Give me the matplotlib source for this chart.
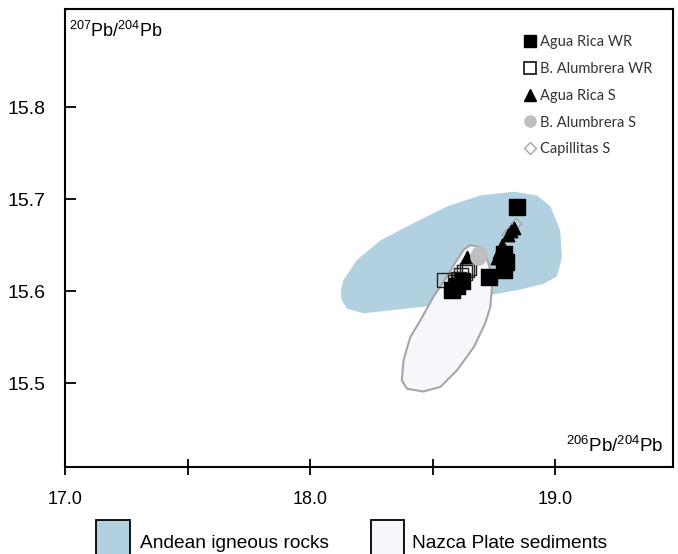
import numpy as np
import matplotlib
matplotlib.use("Agg")
import matplotlib.pyplot as plt
from matplotlib.patches import Polygon, Rectangle
from matplotlib.lines import Line2D

plt.rcParams.update({"font.family": "Liberation Sans", "mathtext.fontset": "custom",
                     "mathtext.rm": "Liberation Sans", "mathtext.it": "Liberation Sans"})

# field outlines (206Pb/204Pb, 207Pb/204Pb)
andean_x = [18.125, 18.136, 18.191, 18.286, 18.422, 18.558, 18.694, 18.830, 18.925, 18.980,
            19.020, 19.027, 19.007, 18.952, 18.844, 18.735, 18.626, 18.490, 18.286, 18.218,
            18.150, 18.129]
andean_y = [15.601, 15.612, 15.634, 15.655, 15.674, 15.692, 15.704, 15.708, 15.704, 15.692,
            15.666, 15.637, 15.616, 15.608, 15.601, 15.596, 15.590, 15.584, 15.578, 15.576,
            15.581, 15.590]
nazca_x = [18.653, 18.694, 18.714, 18.732, 18.742, 18.735, 18.714, 18.667, 18.599, 18.531,
           18.462, 18.395, 18.374, 18.381, 18.408, 18.449, 18.503, 18.558, 18.599, 18.626]
nazca_y = [15.650, 15.648, 15.641, 15.626, 15.605, 15.583, 15.565, 15.539, 15.514, 15.496,
           15.491, 15.494, 15.503, 15.525, 15.550, 15.568, 15.594, 15.616, 15.634, 15.645]

# samples
ar_wr_x = [18.58, 18.60, 18.62, 18.73, 18.79, 18.80, 18.79, 18.845]
ar_wr_y = [15.601, 15.606, 15.611, 15.615, 15.623, 15.632, 15.640, 15.691]
ba_wr_x = [18.547, 18.590, 18.605, 18.616, 18.630, 18.640, 18.648]
ba_wr_y = [15.612, 15.610, 15.613, 15.617, 15.620, 15.623, 15.626]
ar_s_x = [18.641, 18.763, 18.771, 18.784, 18.790, 18.808, 18.820, 18.833]
ar_s_y = [15.637, 15.636, 15.642, 15.650, 15.630, 15.661, 15.665, 15.669]
ba_s_x = [18.686, 18.690]
ba_s_y = [15.637, 15.640]
cap_s_x = [18.804, 18.816, 18.829, 18.841]
cap_s_y = [15.661, 15.665, 15.668, 15.673]

BLUE = "#B1D0E0"
NAZ = "#F5F7FA"

fig = plt.figure(figsize=(6.78, 5.54), dpi=100)
ax = fig.add_axes([0.0959, 0.157, 0.8967, 0.8268])

ax.add_patch(Polygon(np.column_stack([andean_x, andean_y]), closed=True,
                     facecolor=BLUE, edgecolor="none", zorder=1))
ax.add_patch(Polygon(np.column_stack([nazca_x, nazca_y]), closed=True,
                     facecolor=NAZ, edgecolor="#A6A6A6", lw=1.5, joinstyle="round",
                     zorder=2))

ax.scatter(ba_wr_x, ba_wr_y, s=110, marker="s", facecolor="none", edgecolor="#222222",
           lw=1.0, zorder=3)
ax.scatter(ar_wr_x, ar_wr_y, s=125, marker="s", color="black", zorder=4)
ax.scatter(ar_s_x, ar_s_y, s=80, marker="^", color="black", zorder=5)
ax.scatter(ba_s_x, ba_s_y, s=120, marker="o", color="#BFBFBF", zorder=5)
ax.scatter(cap_s_x, cap_s_y, s=30, marker="D", facecolor="none", edgecolor="#A6A6A6",
           lw=1.0, zorder=4)

ax.set_xlim(17.0, 19.48)
ax.set_ylim(15.409, 15.9065)
ax.set_xticks([17.0, 18.0, 19.0])
ax.set_xticklabels(["17.0", "18.0", "19.0"])
ax.set_xticks([17.5, 18.5], minor=True)
ax.set_yticks([15.5, 15.6, 15.7, 15.8])
ax.set_yticklabels(["15.5", "15.6", "15.7", "15.8"])
ax.tick_params(axis="x", which="both", direction="inout", length=11, width=1.3,
               labelsize=13, pad=12)
ax.tick_params(axis="y", direction="in", length=8, width=1.3, labelsize=14, pad=14)
for sp in ax.spines.values():
    sp.set_linewidth(1.5)

ax.text(0.007, 0.953, r"$^{207}$Pb/$^{204}$Pb", transform=ax.transAxes, fontsize=13,
        ha="left", va="center")
ax.text(0.985, 0.045, r"$^{206}$Pb/$^{204}$Pb", transform=ax.transAxes, fontsize=13.5,
        ha="right", va="center")

handles = [
    Line2D([], [], ls="none", marker="s", ms=8, color="black"),
    Line2D([], [], ls="none", marker="s", ms=8, mfc="white", mec="#222222", mew=1.3),
    Line2D([], [], ls="none", marker="^", ms=8, color="black"),
    Line2D([], [], ls="none", marker="o", ms=8, color="#BFBFBF"),
    Line2D([], [], ls="none", marker="D", ms=6, mfc="white", mec="#A6A6A6", mew=1.0),
]
labels = ["Agua Rica WR", "B. Alumbrera WR", "Agua Rica S", "B. Alumbrera S", "Capillitas S"]
leg = ax.legend(handles, labels, loc="upper left", bbox_to_anchor=(0.755, 0.943),
                frameon=False, prop={"family": "Lato", "size": 10.5}, handlelength=0.8,
                handletextpad=0.3, labelspacing=0.88, borderpad=0, borderaxespad=0)
for t in leg.get_texts():
    t.set_color("#333333")

# field key below the plot
fig.patches.append(Rectangle((96 / 678, -0.01), 34 / 678, (554 - 520) / 554 + 0.01,
                             transform=fig.transFigure, facecolor=BLUE, edgecolor="black",
                             lw=1.3))
fig.patches.append(Rectangle((371 / 678, -0.01), 33 / 678, (554 - 520) / 554 + 0.01,
                             transform=fig.transFigure, facecolor=NAZ, edgecolor="black",
                             lw=1.3))
fig.text(140 / 678, 1 - 543 / 554, "Andean igneous rocks", fontsize=13.8, va="center")
fig.text(412 / 678, 1 - 543 / 554, "Nazca Plate sediments", fontsize=13.8, va="center")

fig.savefig("out.png", dpi=100)
